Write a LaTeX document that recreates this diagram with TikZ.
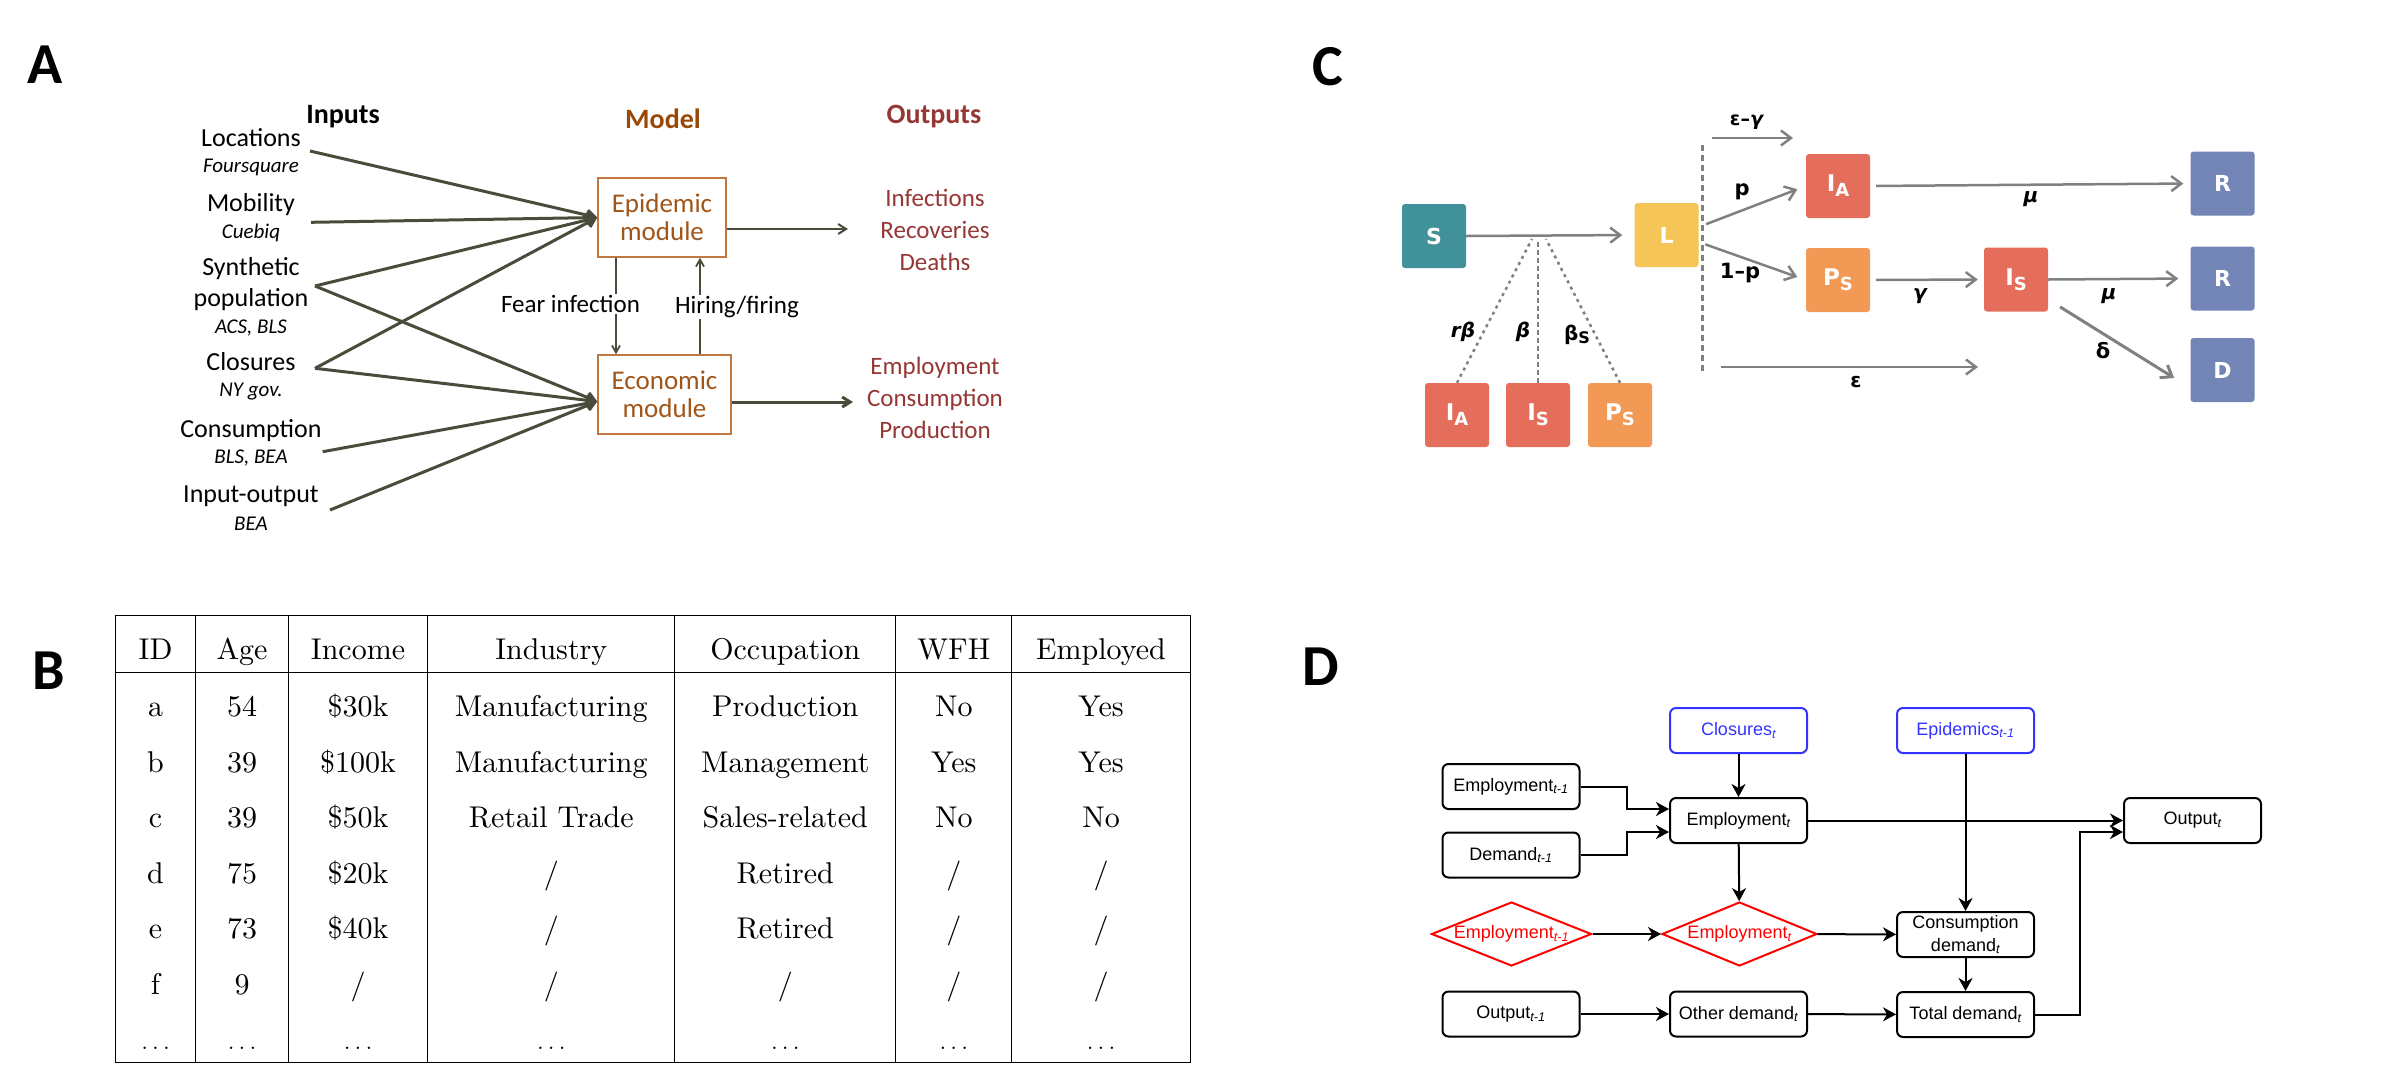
\documentclass[tikz,border=0pt]{standalone}
\usepackage{fontspec}
\usepackage{array}
\usepackage{tikz}
\usetikzlibrary{positioning}
\usetikzlibrary{shapes.geometric}
\usetikzlibrary{arrows.meta}
\newfontfamily\calib{Carlito}
\newfontfamily\dejavu{DejaVu Sans}
\newfontfamily\helv{Liberation Sans}
\newfontfamily\cmten{lmroman10-regular}[Extension=.otf]
\newcommand{\fsz}[2]{\fontsize{#1}{#2}\selectfont}
\newcommand{\tsub}[1]{\textsubscript{\itshape #1}}
\newcommand{\comp}[2]{{\fsz{23}{23}#1\raisebox{-5pt}{\fsz{18}{18}#2}}}
\newcommand{\rs}{\rule[-12pt]{0pt}{55.5pt}}
\newcommand{\more}{$\dots$}
\newcolumntype{C}[1]{>{\centering\arraybackslash}p{#1}}

\definecolor{feedgray}{RGB}{75,75,60}
\definecolor{modbrown}{RGB}{152,72,7}
\definecolor{modtext}{RGB}{160,85,25}
\definecolor{modbox}{RGB}{192,120,64}
\definecolor{outred}{RGB}{149,55,53}
\definecolor{cS}{RGB}{65,145,154}
\definecolor{cL}{RGB}{245,197,88}
\definecolor{cI}{RGB}{229,109,91}
\definecolor{cP}{RGB}{241,153,85}
\definecolor{cR}{RGB}{115,132,183}
\definecolor{cgray}{RGB}{128,128,128}
\definecolor{dblue}{RGB}{51,51,255}

\tikzset{panel/.style={font=\calib\bfseries\fsz{58}{60},inner sep=0pt}}
\tikzset{head/.style={font=\calib\bfseries\fsz{28}{32},inner sep=0pt}}
\tikzset{inp/.style={font=\calib\fsz{26}{30},inner sep=0pt,anchor=base}}
\tikzset{src/.style={font=\calib\itshape\fsz{21}{25},inner sep=0pt,anchor=base}}
\tikzset{module/.style={draw=modbox,line width=1.5pt,text=modtext,
                        font=\calib\fsz{27}{28},align=center,
                        minimum width=128pt,minimum height=79pt,inner sep=0pt}}
\tikzset{outs/.style={text=outred,font=\calib\fsz{25}{32},align=center,inner sep=0pt}}
\tikzset{note/.style={font=\calib\fsz{25}{30},fill=white,inner sep=1pt}}
\tikzset{feed/.style={line width=3pt,draw=feedgray,-{Straight Barb[length=8pt,width=10pt]}}}
\tikzset{link/.style={line width=1.8pt,draw=feedgray,-{Straight Barb[length=7pt,width=8pt]}}}
\tikzset{comp/.style={minimum size=64pt,inner sep=0pt,rounded corners=3pt,
                      text=white,font=\dejavu\bfseries\fsz{22}{22}}}
\tikzset{rate/.style={font=\dejavu\bfseries\fsz{19}{21},inner sep=0pt}}
\tikzset{grk/.style={rate,font=\dejavu\bfseries\itshape\fsz{20}{22}}}
\tikzset{carrow/.style={line width=2.5pt,draw=cgray,-{Straight Barb[length=10pt,width=15pt]}}}
\tikzset{contact/.style={line width=2.5pt,draw=cgray,dash pattern=on 3pt off 4pt}}
\tikzset{cutline/.style={line width=3pt,draw=cgray,dash pattern=on 6pt off 4pt}}
\tikzset{dbox/.style={draw,rounded corners=6pt,line width=2pt,minimum width=137pt,
                      minimum height=45pt,inner sep=0pt,font=\helv\fsz{18}{23},align=center}}
\tikzset{ext/.style={dbox,draw=dblue,text=dblue}}
\tikzset{lag/.style={diamond,draw=red,line width=2pt,minimum width=160pt,
                     minimum height=64pt,inner sep=0pt}}
\tikzset{flow/.style={line width=2pt,-{Stealth[length=13pt,width=14pt,inset=4pt]}}}

\begin{document}
\begin{tikzpicture}[x=1pt,y=-1pt]

    \useasboundingbox (0,0) rectangle (2402,1080);

    \node[panel] (pa) at (45.5,65) {A};
    \node[panel] (pb) at (49,671) {B};
    \node[panel] (pc) at (1328,67) {C};
    \node[panel] (pd) at (1321,667) {D};

    % A: inputs, model and outputs
    \node[head] (inputs) at (343,117) {Inputs};
    \node[head,text=modbrown] (model) at (663,119) {Model};
    \node[head,text=outred] (outputs) at (934,117) {Outputs};

    \node[inp] (loc) at (251,146) {Locations};
    \node[src] (loc-s) at (251,172.7) {Foursquare};
    \node[inp] (mob) at (251,211.7) {Mobility};
    \node[src] (mob-s) at (251,238.3) {Cuebiq};
    \node[inp] (syn) at (251,275.7) {Synthetic};
    \node[inp] (syn-p) at (251,306.7) {population};
    \node[src] (syn-s) at (251,333.3) {ACS, BLS};
    \node[inp] (clo) at (251,370) {Closures};
    \node[src] (clo-s) at (251,396.7) {NY gov.};
    \node[inp] (con) at (251,437.3) {Consumption};
    \node[src] (con-s) at (251,463.3) {BLS, BEA};
    \node[inp] (io) at (251,502.7) {Input-output};
    \node[src] (io-s) at (251,530) {BEA};

    \coordinate (loc-o) at (310,151);
    \coordinate (mob-o) at (311,222.3);
    \coordinate (syn-o) at (315,286);
    \coordinate (clo-o) at (315,368.3);
    \coordinate (con-o) at (322.7,451.7);
    \coordinate (io-o) at (330,510);

    \node[module] (epi) at (662,217.5) {Epidemic\\module};
    \node[module,minimum width=133pt] (eco) at (664.5,394.5) {Economic\\module};
    \coordinate (eco-in) at ([yshift=-7pt]eco.west);

    \draw[feed] (loc-o) -- (epi.west);
    \draw[feed] (mob-o) -- (epi.west);
    \draw[feed] (syn-o) -- (epi.west);
    \draw[feed] (syn-o) -- (eco-in);
    \draw[feed] (clo-o) -- (epi.west);
    \draw[feed] (clo-o) -- (eco-in);
    \draw[feed] (con-o) -- (eco-in);
    \draw[feed] (io-o) -- (eco-in);

    \draw[link] ([xshift=-46pt]epi.south) -- ([xshift=-46pt]epi.south |- eco.north);
    \draw[link] ([xshift=35.5pt]eco.north) -- ([xshift=35.5pt]eco.north |- epi.south);
    \node[note] (fear) at (570.5,304) {Fear infection};
    \node[note] (hire) at (737,307) {Hiring/firing};

    \node[outs] (epi-out) at (935,230) {Infections\\Recoveries\\Deaths};
    \node[outs] (eco-out) at (935,398) {Employment\\Consumption\\Production};
    \coordinate (epi-to) at (848,229);
    \coordinate (eco-to) at (853,402);
    \draw[feed,line width=2pt] ([yshift=-11.5pt]epi.east) -- (epi-to);
    \draw[feed] ([yshift=-7.5pt]eco.east) -- (eco-to);

    % B: synthetic population table
    \node[anchor=north west,inner sep=0pt,font=\cmten\fsz{30}{36}] (tab) at (114.5,615) {%
        \setlength{\tabcolsep}{0pt}\setlength{\arrayrulewidth}{1.2pt}%
        \begin{tabular}{|C{79.3pt}|C{91.3pt}|C{138.3pt}|C{245.8pt}|C{219.8pt}|C{114.8pt}|C{177.3pt}|}
        \hline
        \rs ID & Age & Income & Industry & Occupation & WFH & Employed\\
        \hline
        \rs a & 54 & \$30k & Manufacturing & Production & No & Yes\\
        \rs b & 39 & \$100k & Manufacturing & Management & Yes & Yes\\
        \rs c & 39 & \$50k & Retail Trade & Sales-related & No & No\\
        \rs d & 75 & \$20k & / & Retired & / & /\\
        \rs e & 73 & \$40k & / & Retired & / & /\\
        \rs f & 9 & / & / & / & / & /\\
        \rs \more & \more & \more & \more & \more & \more & \more\\
        \hline
        \end{tabular}
    };

    % C: compartments
    \node[comp,fill=cS] (S) at (1434,236) {S};
    \node[comp,fill=cL] (L) at (1666.5,235) {L};
    \node[comp,fill=cI] (IAb) at (1457,415) {\comp{I}{A}};
    \node[comp,fill=cI] (ISb) at (1538,415) {\comp{I}{S}};
    \node[comp,fill=cP] (PSb) at (1620,415) {\comp{P}{S}};
    \node[comp,fill=cI] (IA) at (1838,186) {\comp{I}{A}};
    \node[comp,fill=cP] (PS) at (1838,280) {\comp{P}{S}};
    \node[comp,fill=cI] (IS) at (2016,279.5) {\comp{I}{S}};
    \node[comp,fill=cR] (R1) at (2222.5,183.5) {R};
    \node[comp,fill=cR] (R2) at (2222.5,278.5) {R};
    \node[comp,fill=cR] (dead) at (2222.5,370) {D};

    \coordinate (mix) at (1538,239);
    \draw[carrow,shorten >=12pt] (S.east) -- (L.west);
    \draw[contact] (IAb.north) -- ([xshift=-6pt]mix);
    \draw[contact,dash pattern=on 5pt off 3pt] (ISb.north) -- (mix);
    \draw[contact] (PSb.north) -- ([xshift=8pt]mix);
    \node[grk] (rb) at (1463,332) {rβ};
    \node[grk] (b) at (1523,332) {β};
    \node[rate,font=\dejavu\bfseries\fsz{20}{22}] (bs) at (1577,335) {β\raisebox{-3pt}{\fsz{16}{16}S}};

    \draw[cutline] (1702,145) -- (1702,372);
    \coordinate (eg-a) at (1712,138);
    \coordinate (eg-b) at (1793,138);
    \draw[carrow] (eg-a) -- (eg-b);
    \node[rate] (eg) at (1747,122) {ε–\textit{γ}};

    \draw[carrow,shorten <=8pt,shorten >=9pt] ([yshift=8pt]L.east) -- (IA.west);
    \draw[carrow,shorten <=7pt,shorten >=9pt] ([yshift=-7pt]L.east) -- (PS.west);
    \node[rate,font=\dejavu\bfseries\fsz{21}{23}] (p) at (1742,192) {p};
    \node[rate,font=\dejavu\bfseries\fsz{21}{23}] (q) at (1740,273) {1–p};

    \draw[carrow,shorten <=6pt,shorten >=7pt] (IA.east) -- (R1.west);
    \node[grk] (mu1) at (2031,199) {μ};
    \draw[carrow,shorten <=6pt,shorten >=6pt] (PS.east) -- (IS.west);
    \node[grk] (gam) at (1920,296) {γ};
    \draw[carrow,shorten >=12pt] (IS.east) -- (R2.west);
    \node[grk] (mu2) at (2109,296) {μ};
    \draw[carrow,line width=3pt,shorten <=14pt,shorten >=19pt] ([yshift=-20pt]IS.east) -- ([yshift=-18pt]dead.west);
    \node[rate,font=\dejavu\bfseries\fsz{21}{23}] (del) at (2103,351) {δ};

    \coordinate (ep-a) at (1721,367);
    \coordinate (ep-b) at (1978,367);
    \draw[carrow] (ep-a) -- (ep-b);
    \node[rate,font=\dejavu\bfseries\fsz{20}{22}] (eps) at (1856,382) {ε};

    % D: economic model flow
    \node[ext] (clos) at (1738.5,730.5) {Closures\tsub{t}};
    \node[ext] (epid) at (1965.5,730.5) {Epidemics\tsub{t-1}};
    \node[dbox] (emp1) at (1511,786.5) {Employment\tsub{t-1}};
    \node[dbox] (dem1) at (1511,855) {Demand\tsub{t-1}};
    \node[dbox] (empt) at (1738.5,820.5) {Employment\tsub{t}};
    \node[dbox] (outt) at (2192.5,820.5) {Output\tsub{t}};
    \node[lag,label={[text=red,font=\helv\fsz{18}{20}]center:Employment\tsub{t-1}}] (lagp) at (1511.5,934) {};
    \node[lag,minimum width=155pt,label={[text=red,font=\helv\fsz{18}{20}]center:Employment\tsub{t}}] (lagt) at (1739.5,934) {};
    \node[dbox] (cons) at (1965.5,934.5) {Consumption\\demand\tsub{t}};
    \node[dbox] (out1) at (1511,1014) {Output\tsub{t-1}};
    \node[dbox] (oth) at (1738.5,1014) {Other demand\tsub{t}};
    \node[dbox] (tot) at (1965.5,1014.5) {Total demand\tsub{t}};

    \draw[flow] (clos) -- (empt);
    \draw[flow] (emp1.east) -- ++(46,0) |- ([yshift=11.5pt]empt.west);
    \draw[flow] (dem1.east) -- ++(46,0) |- ([yshift=-11.5pt]empt.west);
    \draw[flow] (empt) -- (lagt);
    \draw[flow] (empt) -- (outt);
    \draw[flow] (epid) -- (cons);
    \draw[flow] (lagp) -- (lagt);
    \draw[flow] (lagt) -- (cons);
    \draw[flow] (cons) -- (tot);
    \draw[flow] (out1) -- (oth);
    \draw[flow] (oth) -- (tot);
    \draw[flow] (tot.east) -- ++(45,0) |- ([yshift=-11.5pt]outt.west);

\end{tikzpicture}
\end{document}
